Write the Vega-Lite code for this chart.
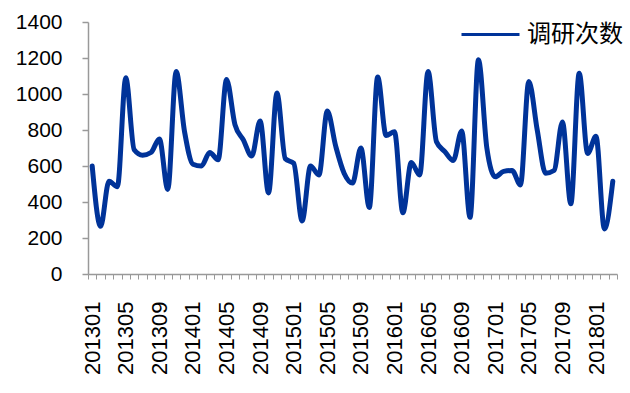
{
  "$schema": "https://vega.github.io/schema/vega-lite/v6.json",
  "autosize": {"type": "none"},
  "width": 529,
  "height": 252,
  "padding": {"left": 88, "top": 22, "right": 13, "bottom": 119},
  "background": "white",
  "config": {"view": {"stroke": null}, "font": "Liberation Sans"},
  "data": {"values": [
    {"month": "201301", "count": 600},
    {"month": "201302", "count": 265},
    {"month": "201303", "count": 515},
    {"month": "201304", "count": 485},
    {"month": "201305", "count": 1090},
    {"month": "201306", "count": 690},
    {"month": "201307", "count": 660},
    {"month": "201308", "count": 675},
    {"month": "201309", "count": 750},
    {"month": "201310", "count": 470},
    {"month": "201311", "count": 1125},
    {"month": "201312", "count": 790},
    {"month": "201401", "count": 610},
    {"month": "201402", "count": 600},
    {"month": "201403", "count": 675},
    {"month": "201404", "count": 635},
    {"month": "201405", "count": 1080},
    {"month": "201406", "count": 830},
    {"month": "201407", "count": 745},
    {"month": "201408", "count": 655},
    {"month": "201409", "count": 850},
    {"month": "201410", "count": 450},
    {"month": "201411", "count": 1005},
    {"month": "201412", "count": 640},
    {"month": "201501", "count": 615},
    {"month": "201502", "count": 295},
    {"month": "201503", "count": 600},
    {"month": "201504", "count": 550},
    {"month": "201505", "count": 905},
    {"month": "201506", "count": 710},
    {"month": "201507", "count": 560},
    {"month": "201508", "count": 505},
    {"month": "201509", "count": 700},
    {"month": "201510", "count": 370},
    {"month": "201511", "count": 1095},
    {"month": "201512", "count": 770},
    {"month": "201601", "count": 790},
    {"month": "201602", "count": 340},
    {"month": "201603", "count": 620},
    {"month": "201604", "count": 550},
    {"month": "201605", "count": 1125},
    {"month": "201606", "count": 735},
    {"month": "201607", "count": 680},
    {"month": "201608", "count": 630},
    {"month": "201609", "count": 795},
    {"month": "201610", "count": 315},
    {"month": "201611", "count": 1190},
    {"month": "201612", "count": 700},
    {"month": "201701", "count": 540},
    {"month": "201702", "count": 570},
    {"month": "201703", "count": 575},
    {"month": "201704", "count": 495},
    {"month": "201705", "count": 1070},
    {"month": "201706", "count": 800},
    {"month": "201707", "count": 560},
    {"month": "201708", "count": 575},
    {"month": "201709", "count": 845},
    {"month": "201710", "count": 390},
    {"month": "201711", "count": 1115},
    {"month": "201712", "count": 670},
    {"month": "201801", "count": 765},
    {"month": "201802", "count": 250},
    {"month": "201803", "count": 515}
  ]},
  "mark": {"type": "line", "interpolate": "monotone", "strokeWidth": 5, "strokeCap": "round", "strokeJoin": "round"},
  "encoding": {
    "x": {
      "field": "month", "type": "ordinal", "sort": null,
      "scale": {"type": "band", "paddingInner": 0, "paddingOuter": 0},
      "bandPosition": 0.5,
      "axis": {
        "title": null,
        "grid": false,
        "tickBand": "extent",
        "domainColor": "#999999",
        "domainWidth": 1.5,
        "tickColor": "#999999",
        "tickWidth": 1,
        "tickSize": 5,
        "labelAngle": -90,
        "labelFontSize": 22,
        "labelColor": "#000000",
        "labelPadding": 22,
        "labelOverlap": false,
        "labelExpr": "(toNumber(substring(datum.value, 4, 6)) - 1) % 4 == 0 ? datum.value : ''"
      }
    },
    "y": {
      "field": "count", "type": "quantitative",
      "scale": {"domain": [0, 1400], "nice": false, "zero": true},
      "axis": {
        "title": null,
        "grid": false,
        "format": "d",
        "values": [0, 200, 400, 600, 800, 1000, 1200, 1400],
        "domainColor": "#999999",
        "domainWidth": 1.5,
        "tickColor": "#999999",
        "tickWidth": 1.5,
        "tickSize": 6,
        "labelFontSize": 21,
        "labelColor": "#000000",
        "labelPadding": 20
      }
    },
    "color": {
      "datum": "调研次数",
      "scale": {"range": ["#003399"]},
      "legend": {
        "title": null,
        "orient": "none",
        "legendX": 372,
        "legendY": -18,
        "symbolType": "stroke",
        "symbolSize": 3364,
        "symbolStrokeWidth": 3,
        "symbolStrokeColor": "#003399",
        "labelFont": "Noto Sans CJK SC",
        "labelFontSize": 24,
        "labelColor": "#000000",
        "labelOffset": 6
      }
    }
  }
}
